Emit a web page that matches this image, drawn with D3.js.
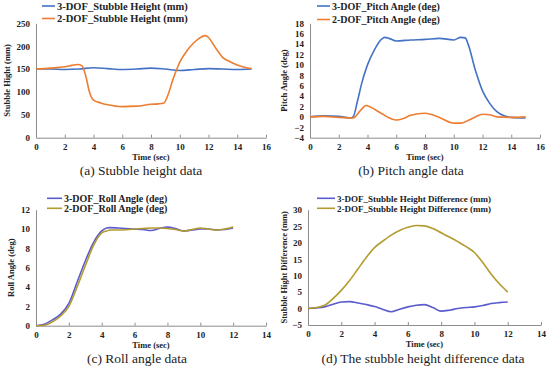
<!DOCTYPE html>
<html>
<head>
<meta charset="utf-8">
<script src="https://cdn.jsdelivr.net/npm/d3@7"></script>
<style>
  body { margin: 0; background: #fff; }
  svg { display: block; }
  text { font-family: "Liberation Serif", "Times New Roman", serif; }
</style>
</head>
<body>
<div id="chart"></div>
<script>
// (a) stubble height
const heightTime3 = [0, 1, 2, 3, 4, 5, 6, 7, 8, 9, 10, 11, 12, 13, 14, 15];
const height3dof = [150, 150, 149, 150, 153, 151, 149, 150, 152, 150, 147, 149, 151, 150, 149, 150];
const heightTime2 = [0, 1, 2, 2.5, 2.9, 3.2, 3.5, 3.7, 4, 4.5, 5, 6, 7, 8, 8.5, 8.9, 9.2, 9.5, 9.8, 10, 10.5, 11, 11.5, 11.8, 12, 12.5, 13, 13.5, 14, 14.5, 15];
const height2dof = [150, 152, 155, 158, 160, 157, 130, 102, 82, 76, 72, 68, 69, 73, 74, 76, 95, 125, 150, 165, 190, 208, 220, 223, 219, 196, 175, 166, 159, 154, 151];

// (b) pitch angle
const pitchTime = [0, 1, 2, 2.8, 3, 3.3, 3.6, 4, 4.5, 5, 5.2, 5.5, 6, 7, 8, 9, 10, 10.5, 10.8, 11, 11.5, 12, 12.5, 13, 13.5, 14, 15];
const pitch3dof = [0, 0.2, 0.1, -0.2, 0, 3, 6.5, 10, 13, 15, 15.3, 15.1, 14.6, 14.8, 14.9, 15.1, 14.8, 15.3, 15.2, 14, 9, 5, 2.6, 1, 0.2, -0.1, -0.2];
const pitchTime2 = [0, 1, 2, 3, 3.5, 3.9, 4.2, 5, 6, 6.5, 7, 8, 9, 10, 10.5, 11, 11.5, 12, 12.5, 13, 14, 15];
const pitch2dof = [0, 0.1, -0.1, -0.2, 1.2, 2.2, 1.9, 0.6, -0.6, -0.3, 0.3, 0.7, -0.1, -1.2, -1.2, -0.7, 0, 0.5, 0.4, 0, -0.1, 0];

// (c) roll angle
const rollTime = [0, 0.5, 1, 1.5, 2, 2.5, 3, 3.5, 4, 4.3, 4.5, 5, 6, 6.5, 7, 7.5, 8, 8.5, 9, 9.5, 10, 10.5, 11, 11.5, 12];
const roll3dof = [0, 0.15, 0.6, 1.2, 2.3, 4.5, 6.7, 8.6, 9.8, 10.1, 10.15, 10.1, 10, 9.95, 9.85, 10.05, 10.2, 10.05, 9.8, 9.9, 10, 10, 9.9, 9.95, 10.1];
const roll2dof = [0, 0.05, 0.4, 1.0, 2.0, 4.0, 6.2, 8.3, 9.6, 9.8, 9.9, 9.9, 10, 10.05, 10.1, 10.1, 10.05, 9.95, 9.8, 9.95, 10.1, 10, 9.9, 10, 10.2];

// (d) stubble height difference
const diffTime = [0, 0.5, 1, 1.5, 2, 2.5, 3, 3.5, 4, 4.5, 5, 5.5, 6, 6.5, 7, 7.5, 8, 8.5, 9, 9.5, 10, 10.5, 11, 11.5, 12];
const diff3dof = [0, 0.2, 0.5, 1.3, 2, 2.1, 1.7, 1.2, 0.6, -0.3, -1, -0.2, 0.5, 1, 1.2, 0.3, -0.8, -0.5, 0, 0.3, 0.5, 0.9, 1.5, 1.8, 2];
const diff2dof = [0, 0.3, 1, 3, 5.5, 8.5, 12, 15.5, 18.5, 20.5, 22.3, 23.7, 24.7, 25.2, 25.1, 24.3, 23, 21.7, 20.3, 18.8, 17, 14, 10.5, 7.5, 5];

const blue = "#4472c4", orange = "#ed7d31", violet = "#5b5bcf", gold = "#b39b2f";

const svg = d3.select("#chart").append("svg").attr("width", 550).attr("height", 368);

function drawPanel(p) {
  const x = d3.scaleLinear().domain(p.xDomain).range([p.left, p.right]);
  const y = d3.scaleLinear().domain(p.yDomain).range([p.bottom, p.top]);
  const g = svg.append("g");

  const xAxis = g.append("g")
    .attr("transform", "translate(0," + p.bottom + ")")
    .call(d3.axisBottom(x).tickValues(p.xTicks).tickSizeInner(-3).tickSizeOuter(0).tickPadding(6));
  const yAxis = g.append("g")
    .attr("transform", "translate(" + p.left + ",0)")
    .call(d3.axisLeft(y).tickValues(p.yTicks).tickSizeInner(0).tickSizeOuter(0).tickPadding(6));
  [xAxis, yAxis].forEach(a => {
    a.selectAll("path,line").attr("stroke", "#8c8c8c");
    a.selectAll("text").attr("font-family", "Liberation Serif").attr("font-weight", "bold")
      .attr("font-size", 9).attr("fill", "#222");
  });

  const line = d3.line().x(d => x(d[0])).y(d => y(d[1])).curve(d3.curveMonotoneX);
  p.series.forEach(s => {
    g.append("path").datum(d3.zip(s.t, s.v))
      .attr("fill", "none").attr("stroke", s.color).attr("stroke-width", 1.6).attr("d", line);
  });

  // legend
  p.series.forEach((s, i) => {
    const ly = p.legendY + i * p.legendGap;
    g.append("line").attr("x1", p.legendX).attr("x2", p.legendX + p.legendLen)
      .attr("y1", ly).attr("y2", ly).attr("stroke", s.color).attr("stroke-width", 1.6);
    g.append("text").attr("x", p.legendX + p.legendLen + 2).attr("y", ly + 3.5)
      .attr("font-size", p.legendSize).attr("font-weight", "bold").attr("fill", "#222").text(s.name);
  });

  g.append("text").attr("x", (p.left + p.right) / 2).attr("y", p.bottom + 22)
    .attr("text-anchor", "middle").attr("font-size", 8.5).attr("font-weight", "bold")
    .attr("fill", "#222").text("Time (sec)");
  g.append("text").attr("transform", "translate(" + p.yTitleX + "," + (p.top + p.bottom) / 2 + ") rotate(-90)")
    .attr("text-anchor", "middle").attr("font-size", 8.5).attr("font-weight", "bold")
    .attr("fill", "#222").text(p.yTitle);
  g.append("text").attr("x", p.captionX).attr("y", p.bottom + 37.5)
    .attr("text-anchor", "middle").attr("font-size", 13.5).attr("fill", "#222").text(p.caption);
}

drawPanel({
  left: 36, right: 266, top: 23.3, bottom: 137.7,
  xDomain: [0, 16], yDomain: [0, 250],
  xTicks: d3.range(0, 17, 2), yTicks: d3.range(0, 251, 50),
  series: [
    { name: "3-DOF_Stubble Height (mm)", t: heightTime3, v: height3dof, color: blue },
    { name: "2-DOF_Stubble Height (mm)", t: heightTime2, v: height2dof, color: orange }
  ],
  legendX: 42, legendY: 6, legendGap: 12.5, legendLen: 13, legendSize: 10.5,
  yTitle: "Stubble Hight (mm)", yTitleX: 10,
  caption: "(a) Stubble height data", captionX: 141
});

drawPanel({
  left: 310, right: 540, top: 23.3, bottom: 137.7,
  xDomain: [0, 16], yDomain: [-4, 18],
  xTicks: d3.range(0, 17, 2), yTicks: d3.range(-4, 19, 2),
  series: [
    { name: "3-DOF_Pitch Angle (deg)", t: pitchTime, v: pitch3dof, color: blue },
    { name: "2-DOF_Pitch Angle (deg)", t: pitchTime2, v: pitch2dof, color: orange }
  ],
  legendX: 317, legendY: 6, legendGap: 13.5, legendLen: 13, legendSize: 10,
  yTitle: "Pitch Angle (deg)", yTitleX: 287,
  caption: "(b) Pitch angle data", captionX: 411
});

drawPanel({
  left: 36, right: 266, top: 209.7, bottom: 325.7,
  xDomain: [0, 14], yDomain: [0, 12],
  xTicks: d3.range(0, 15, 2), yTicks: d3.range(0, 13, 2),
  series: [
    { name: "3-DOF_Roll Angle (deg)", t: rollTime, v: roll3dof, color: violet },
    { name: "2-DOF_Roll Angle (deg)", t: rollTime, v: roll2dof, color: gold }
  ],
  legendX: 47, legendY: 198.3, legendGap: 10, legendLen: 15, legendSize: 10,
  yTitle: "Roll Angle (deg)", yTitleX: 14,
  caption: "(c) Roll angle data", captionX: 137
});

drawPanel({
  left: 308, right: 541, top: 209.7, bottom: 325,
  xDomain: [0, 14], yDomain: [-5, 30],
  xTicks: d3.range(0, 15, 2), yTicks: d3.range(-5, 31, 5),
  series: [
    { name: "3-DOF_Stubble Height Difference (mm)", t: diffTime, v: diff3dof, color: violet },
    { name: "2-DOF_Stubble Height Difference (mm)", t: diffTime, v: diff2dof, color: gold }
  ],
  legendX: 317, legendY: 198.3, legendGap: 10, legendLen: 18, legendSize: 9,
  yTitle: "Stubble Hight Difference (mm)", yTitleX: 287,
  caption: "(d) The stubble height  difference data", captionX: 423
});
</script>
</body>
</html>
